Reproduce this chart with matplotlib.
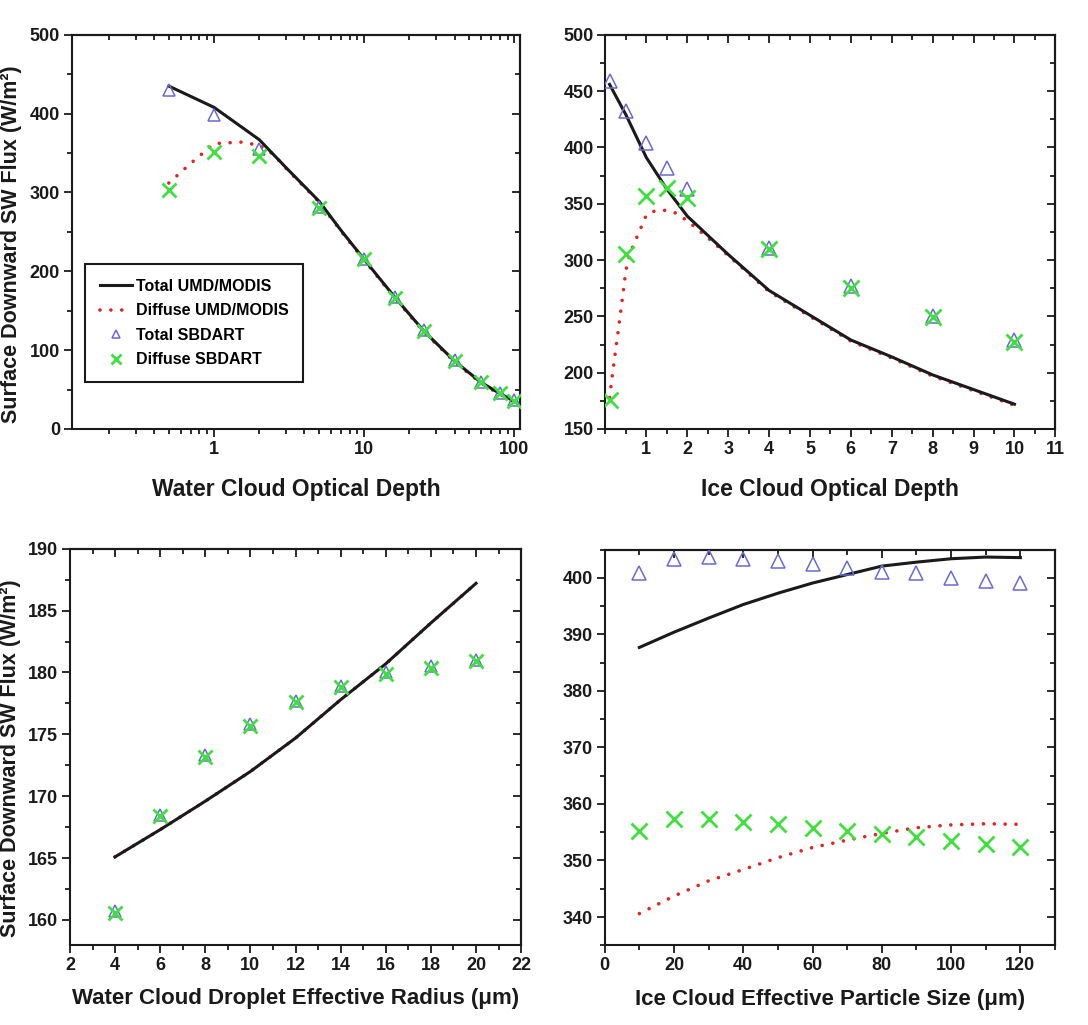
import matplotlib
matplotlib.use("Agg")
import matplotlib.pyplot as plt
from matplotlib.ticker import MultipleLocator, FixedLocator, LogLocator, NullFormatter, FuncFormatter

plt.rcParams['font.family'] = ['Liberation Sans', 'DejaVu Sans']
plt.rcParams['font.weight'] = 'bold'
plt.rcParams['axes.labelweight'] = 'bold'

# water cloud optical depth
wod_x = [0.5, 1, 2, 5, 10, 16, 25, 40, 60, 80, 100]
wod_tot_sb = [430, 398, 355, 282, 216, 168, 125, 87, 60, 46, 37]
wod_dif_sb = [303, 352, 346, 280, 215, 166, 124, 86, 59, 45, 36]
wod_tot_x = [0.5, 1, 2, 3, 5, 7, 10, 16, 25, 40, 60, 80, 100]
wod_tot = [435, 408, 367, 332, 289, 252, 215, 167, 124, 86, 59, 45, 35]
wod_dif_x = [0.5, 0.7, 1, 1.5, 2, 2.5, 3, 5, 7, 10, 16, 25, 40, 60, 80, 100]
wod_dif = [312, 337, 362, 364, 360, 348, 331, 288, 251, 214, 166, 123, 85, 58, 44, 34]

# ice cloud optical depth
iod_x = [0.1, 0.5, 1, 1.5, 2, 4, 6, 8, 10]
iod_tot_sb = [459, 432, 404, 382, 363, 311, 277, 250, 229]
iod_dif_sb = [176, 305, 357, 364, 355, 310, 275.5, 249, 227.5]
iod_tot_x = [0.1, 0.5, 1, 1.5, 2, 3, 4, 5, 6, 7, 8, 9, 10]
iod_tot = [456, 429, 391, 363, 339, 305, 273, 251, 229, 214, 198, 185, 172]
iod_dif_x = [0.1, 0.2, 0.3, 0.4, 0.5, 0.6, 0.8, 1, 1.2, 1.4, 1.7, 2, 2.5, 3, 4, 5, 6, 7, 8, 9, 10]
iod_dif = [178, 207, 234, 262, 291, 306, 323, 340, 343.5, 344.5, 342, 335, 320, 304, 272, 250, 228, 213, 197, 184, 171]

# water cloud droplet effective radius
wre_x = [4, 6, 8, 10, 12, 14, 16, 18, 20]
wre_tot_sb = [160.7, 168.5, 173.3, 175.8, 177.7, 178.9, 180.0, 180.5, 181.0]
wre_dif_sb = [160.6, 168.4, 173.2, 175.7, 177.6, 178.8, 179.9, 180.4, 180.9]
wre_tot = [165.1, 167.3, 169.6, 172.0, 174.7, 177.8, 180.7, 184.0, 187.2]
wre_dif = [165.1, 167.3, 169.6, 172.0, 174.7, 177.8, 180.7, 184.0, 187.2]

# ice cloud effective particle size
ips_x = [10, 20, 30, 40, 50, 60, 70, 80, 90, 100, 110, 120]
ips_tot_sb = [400.8, 403.4, 403.7, 403.4, 403.0, 402.5, 401.8, 401.1, 400.8, 400.0, 399.5, 399.1]
ips_dif_sb = [355.3, 357.4, 357.4, 356.9, 356.4, 355.8, 355.3, 354.7, 354.1, 353.4, 353.0, 352.4]
ips_tot = [387.7, 390.4, 392.9, 395.3, 397.3, 399.1, 400.6, 402.1, 402.8, 403.4, 403.7, 403.6]
ips_dif = [340.6, 343.7, 346.4, 348.4, 350.5, 352.3, 353.6, 354.8, 355.8, 356.3, 356.5, 356.4]

BLUE = '#6a6ad2'
GREEN = '#3ee03e'
RED = '#e02424'
INK = '#1a1a1a'
YLABEL = 'Surface Downward SW Flux (W/m²)'


def draw(ax, lx_t, ly_t, lx_d, ly_d, mx, m_tot, m_dif, msize=9):
    ax.plot(lx_d, ly_d, color=RED, lw=2.6, ls=(0, (0.01, 3.0)), dash_capstyle='round',
            label='Diffuse UMD/MODIS', zorder=2)
    ax.plot(lx_t, ly_t, color=INK, lw=2.2, label='Total UMD/MODIS', zorder=3)
    ax.plot(mx, m_tot, ls='none', marker='^', ms=msize, mfc='none', mec=BLUE, mew=1.1,
            label='Total SBDART', zorder=4)
    ax.plot(mx, m_dif, ls='none', marker='x', ms=msize + 1, mec=GREEN, mew=2.0,
            label='Diffuse SBDART', zorder=5)


def style(ax, xmaj=None, xmin=None, ymaj=None, ymin=None, logx=False):
    for s in ax.spines.values():
        s.set_linewidth(1.5)
        s.set_color(INK)
    ax.tick_params(which='both', direction='out', top=False, right=False,
                   color=INK, labelcolor=INK, labelsize=13, width=1.3, pad=2.5)
    ax.tick_params(which='major', length=6)
    ax.tick_params(which='minor', length=3.5)
    if not logx:
        ax.xaxis.set_major_locator(MultipleLocator(xmaj))
        ax.xaxis.set_minor_locator(MultipleLocator(xmin))
    ax.yaxis.set_major_locator(MultipleLocator(ymaj))
    ax.yaxis.set_minor_locator(MultipleLocator(ymin))
    # mirrored ticks pointing inward on top and right
    top = ax.secondary_xaxis('top')
    right = ax.secondary_yaxis('right')
    if not logx:
        top.xaxis.set_major_locator(MultipleLocator(xmaj))
        top.xaxis.set_minor_locator(MultipleLocator(xmin))
    else:
        top.xaxis.set_major_locator(LogLocator(base=10))
        top.xaxis.set_minor_locator(LogLocator(base=10, subs=range(2, 10)))
    right.yaxis.set_major_locator(MultipleLocator(ymaj))
    right.yaxis.set_minor_locator(MultipleLocator(ymin))
    for sec in (top, right):
        sec.tick_params(which='both', direction='in', color=INK, width=1.3,
                        labeltop=False, labelright=False)
        sec.tick_params(which='major', length=6)
        sec.tick_params(which='minor', length=3.5)
        for s in sec.spines.values():
            s.set_linewidth(1.5)


fig = plt.figure(figsize=(10.88, 10.25), dpi=100)
ax1 = fig.add_axes([0.066, 0.5815, 0.412, 0.3845])
ax2 = fig.add_axes([0.5565, 0.5815, 0.4135, 0.3845])
ax3 = fig.add_axes([0.0643, 0.0783, 0.4147, 0.3864])
ax4 = fig.add_axes([0.5558, 0.0778, 0.4139, 0.3859])

# top left: water cloud optical depth (log axis)
draw(ax1, wod_tot_x, wod_tot, wod_dif_x, wod_dif, wod_x, wod_tot_sb, wod_dif_sb, msize=9)
ax1.set_xscale('log')
ax1.set_xlim(0.113, 109)
ax1.set_ylim(0, 500)
ax1.xaxis.set_major_locator(FixedLocator([1, 10, 100]))
ax1.xaxis.set_major_formatter(FuncFormatter(lambda v, p: '%g' % v))
ax1.xaxis.set_minor_locator(LogLocator(base=10, subs=range(2, 10)))
ax1.xaxis.set_minor_formatter(NullFormatter())
style(ax1, ymaj=100, ymin=50, logx=True)
ax1.set_xlabel('Water Cloud Optical Depth', fontsize=16.5, color=INK)
ax1.xaxis.set_label_coords(0.5, -0.125)
ax1.set_ylabel(YLABEL, fontsize=15.5, color=INK)
ax1.yaxis.set_label_coords(-0.112, 0.47)
h, l = ax1.get_legend_handles_labels()
order = [1, 0, 2, 3]
leg = ax1.legend([h[i] for i in order], [l[i] for i in order], loc='upper left',
                 bbox_to_anchor=(0.03, 0.418), borderaxespad=0, fancybox=False,
                 edgecolor=INK, fontsize=11.5, handlelength=2.0, handletextpad=0.3,
                 markerscale=0.7, borderpad=0.9, labelspacing=0.6, framealpha=1)
leg.get_frame().set_linewidth(1.5)

# top right: ice cloud optical depth
draw(ax2, iod_tot_x, iod_tot, iod_dif_x, iod_dif, iod_x, iod_tot_sb, iod_dif_sb, msize=10)
ax2.set_xlim(0, 11)
ax2.set_ylim(150, 500)
style(ax2, xmaj=1, xmin=0.5, ymaj=50, ymin=25)
ax2.xaxis.set_major_locator(FixedLocator(range(1, 12)))
ax2.set_xlabel('Ice Cloud Optical Depth', fontsize=16.5, color=INK)
ax2.xaxis.set_label_coords(0.5, -0.125)

# bottom left: water cloud droplet effective radius
draw(ax3, wre_x, wre_tot, wre_x, wre_dif, wre_x, wre_tot_sb, wre_dif_sb, msize=9)
ax3.set_xlim(2, 22)
ax3.set_ylim(158, 190)
style(ax3, xmaj=2, xmin=1, ymaj=5, ymin=2.5)
ax3.set_xlabel('Water Cloud Droplet Effective Radius (μm)', fontsize=16, color=INK)
ax3.xaxis.set_label_coords(0.5, -0.11)
ax3.set_ylabel(YLABEL, fontsize=15.5, color=INK)
ax3.yaxis.set_label_coords(-0.108, 0.47)

# bottom right: ice cloud effective particle size
draw(ax4, ips_x, ips_tot, ips_x, ips_dif, ips_x, ips_tot_sb, ips_dif_sb, msize=10)
ax4.set_xlim(0, 130)
ax4.set_ylim(335, 405)
style(ax4, xmaj=20, xmin=10, ymaj=10, ymin=5)
ax4.set_xlabel('Ice Cloud Effective Particle Size (μm)', fontsize=16, color=INK)
ax4.xaxis.set_label_coords(0.5, -0.11)

fig.savefig('out.png', dpi=100)
